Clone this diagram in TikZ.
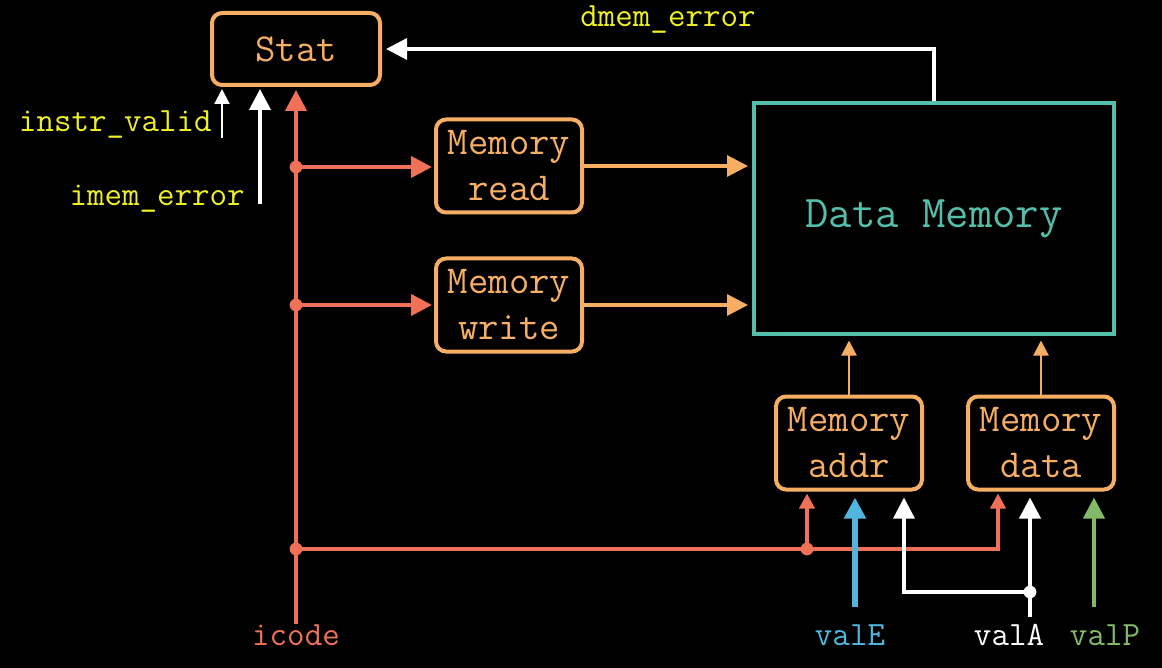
\documentclass[tikz,border=0pt]{standalone}
\usepackage{fontspec}
\usepackage{tikz}
\usetikzlibrary{arrows.meta}
\definecolor{unitorange}{RGB}{246,174,100}
\definecolor{wirered}{RGB}{240,112,88}
\definecolor{memteal}{RGB}{84,190,170}
\definecolor{labelyellow}{RGB}{240,240,40}
\definecolor{valblue}{RGB}{80,182,222}
\definecolor{valgreen}{RGB}{130,186,106}

\begin{document}
\begin{tikzpicture}[x=0.5pt,y=-0.5pt,
  unit/.style={draw=unitorange,line width=2pt,rounded corners=5pt,text=unitorange,align=center,inner sep=0pt,font=\ttfamily\fontsize{19.8}{23}\selectfont},
  membox/.style={unit,minimum width=73pt,minimum height=46.5pt},
  signal/.style={inner sep=0pt,font=\ttfamily\fontsize{17}{20}\selectfont},
  bigtip/.style={-{Triangle[length=10.5pt,width=10.5pt]}},
  smalltip/.style={-{Triangle[length=7.5pt,width=7.5pt]}},
  redwire/.style={draw=wirered,line width=2pt},
  orangewire/.style={draw=unitorange,line width=1.6pt},
  thinorange/.style={draw=unitorange,line width=1.1pt},
  whitewire/.style={draw=white,line width=2pt},
  thinwhite/.style={draw=white,line width=1.1pt}]
  \useasboundingbox (0,0) rectangle (1162,668);
  \fill[black] (0,0) rectangle (1162,668);
%Units
  \node[unit,minimum width=84pt,minimum height=36pt] (stat) at (296,49) {Stat};
  \node[membox] (memread) at (509,166) {Memory\\read};
  \node[membox] (memwrite) at (509,305) {Memory\\write};
  \node[draw=memteal,line width=2pt,minimum width=180pt,minimum height=115.5pt,text=memteal,font=\ttfamily\fontsize{22.7}{26}\selectfont] (datamem) at (934,219) {Data Memory};
  \node[membox] (memaddr) at (849,443) {Memory\\addr};
  \node[membox] (memdata) at (1041,443) {Memory\\data};
% Signals
  \node[signal,text=wirered] (icode) at (296,635) {icode};
  \node[signal,text=valblue] (vale) at (850,635) {valE};
  \node[signal,text=white] (vala) at (1009,635) {valA};
  \node[signal,text=valgreen] (valp) at (1105,635) {valP};
  \node[signal,text=labelyellow] (dmemerr) at (668,20) {dmem\_error};
  \node[signal,text=labelyellow,anchor=east] (instr) at (212,125) {instr\_valid};
  \node[signal,text=labelyellow,anchor=east] (imem) at (245,199) {imem\_error};
% Joints
  \coordinate (jr) at (296,167);
  \coordinate (jw) at (296,305);
  \coordinate (jb) at (296,549);
  \coordinate (ja) at (807,549);
  \coordinate (ivs) at (222,138);
  \coordinate (ims) at (260,204);
  \coordinate (ves) at (855,607);
  \coordinate (vas) at (1030,617);
  \coordinate (vaj) at (1030,592);
  \coordinate (vps) at (1094,607);
% icode
  \draw[redwire,bigtip,shorten >=1.5pt] (icode.north) -- (stat.south);
  \draw[redwire,bigtip,shorten >=1pt] (jr) -- (jr -| memread.west);
  \draw[redwire,bigtip,shorten >=1pt] (jw) -- (jw -| memwrite.west);
  \draw[redwire,smalltip,shorten >=1pt] (jb) -| ([xshift=-21.5pt]memdata.south);
  \draw[redwire,smalltip,shorten >=1pt] (ja) -- (ja |- memaddr.south);
  \fill[wirered] (jr) circle (3.2pt) (jw) circle (3.2pt) (jb) circle (3.2pt) (ja) circle (3.2pt);
% to data memory
  \draw[orangewire,bigtip,shorten >=2pt] (memread.east) -- (memread.east -| datamem.west);
  \draw[orangewire,bigtip,shorten >=2pt] (memwrite.east) -- (memwrite.east -| datamem.west);
  \draw[thinorange,smalltip,shorten >=2pt] (memaddr.north) -- (memaddr.north |- datamem.south);
  \draw[thinorange,smalltip,shorten >=2pt] (memdata.north) -- (memdata.north |- datamem.south);
% status
  \draw[whitewire,line width=1.6pt,bigtip,shorten >=2pt] (datamem.north) |- (stat.east);
  \draw[thinwhite,smalltip,shorten >=1pt] (ivs) -- (ivs |- stat.south);
  \draw[whitewire,bigtip,shorten >=1pt] (ims) -- (ims |- stat.south);
% values
  \draw[draw=valblue,line width=2.6pt,bigtip,shorten >=3pt] (ves) -- (ves |- memaddr.south);
  \draw[whitewire,bigtip,shorten >=3pt] (vas) -- (vas |- memdata.south);
  \draw[whitewire,line width=1.6pt,bigtip,shorten >=3pt] (vaj) -| ([xshift=27.5pt]memaddr.south);
  \fill[white] (vaj) circle (3.2pt);
  \draw[draw=valgreen,line width=2pt,bigtip,shorten >=3pt] (vps) -- (vps |- memdata.south);
\end{tikzpicture}
\end{document}
